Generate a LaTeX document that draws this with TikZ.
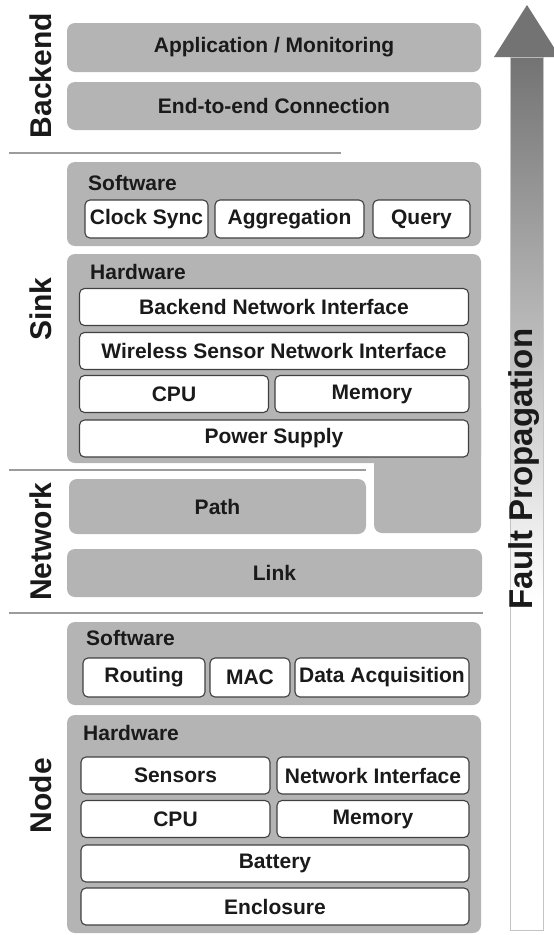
\documentclass[tikz,border=0pt]{standalone}
\usepackage{fontspec}
\setmainfont{Liberation Sans}
\definecolor{layergray}{HTML}{B4B4B4}
\definecolor{framegray}{HTML}{404040}
\definecolor{rulegray}{HTML}{9C9C9C}
\definecolor{arrowgray}{HTML}{737373}
\definecolor{shaftline}{HTML}{C4C4C4}
\definecolor{inkgray}{HTML}{1A1A1A}

\begin{document}
\begin{tikzpicture}[x=1pt,y=-1pt,
	layer/.style={fill=layergray, rounded corners=8pt, inner sep=0pt, minimum width=414pt, text=inkgray, font=\fontsize{21}{24}\selectfont\bfseries},
	part/.style={draw=framegray, line width=1.1pt, fill=white, rounded corners=5pt, inner sep=0pt, minimum height=37pt, text=inkgray, font=\fontsize{21}{24}\selectfont\bfseries},
	group/.style={anchor=west, inner sep=0pt, text=inkgray, font=\fontsize{21}{24}\selectfont\bfseries},
	side/.style={rotate=90, inner sep=0pt, text=inkgray, font=\fontsize{30}{34}\selectfont\bfseries},
	divider/.style={draw=rulegray, line width=1.6pt}]
					\useasboundingbox (0,0) rectangle (554,935);
					\clip (0,0) rectangle (554,935);

					% fault propagation arrow
					\shade[top color=arrowgray, bottom color=white] (510,57) rectangle (543,600);
					\fill[white] (510,600) rectangle (543,930);
					\draw[shaftline, line width=0.8pt] (510,57) rectangle (543,930);
					\fill[arrowgray] (494,57) -- (527,5) -- (560,57) -- cycle;
					\node[side, font=\fontsize{33}{36}\selectfont\bfseries] (fault) at (524,469) {Fault Propagation};

					% side labels and dividers
					\node[side] (backend) at (40.5,75.5) {Backend};
					\node[side] (sink) at (40.5,309) {Sink};
					\node[side] (network) at (40.5,541.5) {Network};
					\node[side] (node) at (40.5,795.5) {Node};
					\coordinate (d1) at (9,153);
					\coordinate (d1e) at (341,153);
					\coordinate (d2) at (9,470);
					\coordinate (d2e) at (366,470);
					\coordinate (d3) at (9,613);
					\coordinate (d3e) at (483,613);
					\draw[divider] (d1) -- (d1e);
					\draw[divider] (d2) -- (d2e);
					\draw[divider] (d3) -- (d3e);

					% backend
					\node[layer, minimum height=49pt] (app) at (274,47.5) {Application / Monitoring};
					\node[layer, minimum height=48pt] (e2e) at (274,106) {End-to-end Connection};

					% sink
					\node[layer, minimum height=84pt] (sinksw) at (274,204) {};
					\node[group] (sinkswlabel) at (88,183) {Software};
					\node[part, minimum width=123pt, minimum height=38pt] (clocksync) at (146.5,219) {Clock Sync};
					\node[part, minimum width=149pt, minimum height=38pt] (aggregation) at (289.5,219) {Aggregation};
					\node[part, minimum width=97pt, minimum height=38pt] (query) at (421.5,219) {Query};

					% L-shaped hardware layer, reaching down beside the path
					\fill[layergray, rounded corners=8pt] (67,254) rectangle (481,463);
					\fill[layergray, rounded corners=8pt] (374,400) rectangle (481,533);
					\node[group] (sinkhwlabel) at (90,272) {Hardware};
					\node[part, minimum width=389pt] (bni) at (274,307) {Backend Network Interface};
					\node[part, minimum width=389pt] (wsni) at (274,351) {Wireless Sensor Network Interface};
					\node[part, minimum width=189pt] (sinkcpu) at (174,394) {CPU};
					\node[part, minimum width=194pt] (sinkmem) at (372,394) {Memory};
					\node[part, minimum width=389pt] (power) at (274,438.5) {Power Supply};

					% network
					\node[layer, minimum width=297pt, minimum height=55pt] (path) at (217.5,506.5) {Path};
					\node[layer, minimum width=415pt, minimum height=48pt] (link) at (274.5,573) {Link};

					% node
					\node[layer, minimum height=83pt] (nodesw) at (274,663.5) {};
					\node[group] (nodeswlabel) at (86,638) {Software};
					\node[part, minimum width=122pt, minimum height=39pt] (routing) at (144,677.5) {Routing};
					\node[part, minimum width=80pt, minimum height=39pt] (mac) at (250,677.5) {MAC};
					\node[part, minimum width=174pt, minimum height=39pt] (dataacq) at (382,677.5) {Data Acquisition};

					\node[layer, minimum height=218pt] (nodehw) at (274,824) {};
					\node[group] (nodehwlabel) at (83,733) {Hardware};
					\node[part, minimum width=189pt] (sensors) at (175.5,775.5) {Sensors};
					\node[part, minimum width=192pt] (netif) at (373,775.5) {Network Interface};
					\node[part, minimum width=189pt] (nodecpu) at (175.5,819) {CPU};
					\node[part, minimum width=192pt] (nodemem) at (373,819) {Memory};
					\node[part, minimum width=388pt] (battery) at (275,863.5) {Battery};
					\node[part, minimum width=388pt] (enclosure) at (275,906.5) {Enclosure};
				  \end{tikzpicture}
\end{document}
